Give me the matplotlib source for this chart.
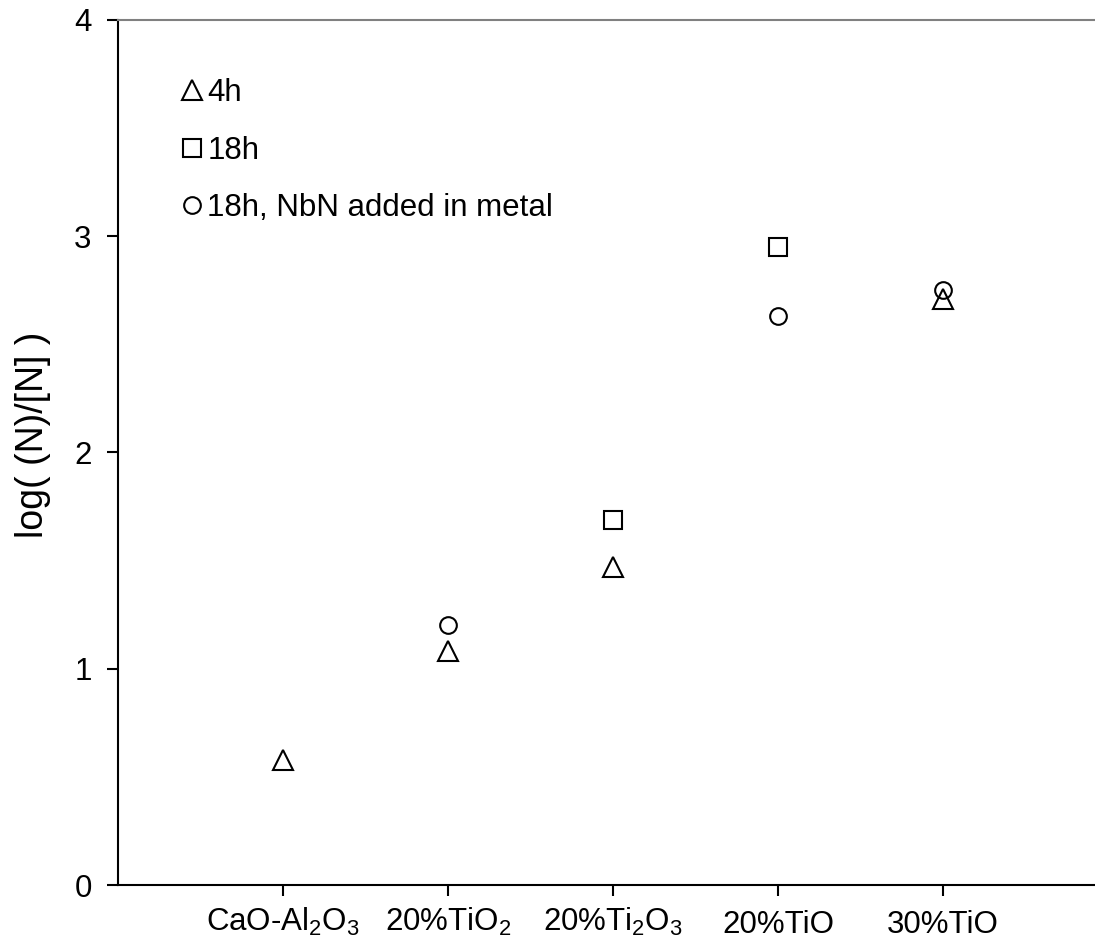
import matplotlib.pyplot as plt

plt.rcParams['font.family'] = ['Liberation Sans', 'DejaVu Sans']
plt.rcParams['mathtext.fontset'] = 'custom'
plt.rcParams['mathtext.rm'] = 'Liberation Sans'
plt.rcParams['mathtext.it'] = 'Liberation Sans'

# slag compositions on the x axis
categories = ['CaO-Al$_2$O$_3$', '20%TiO$_2$', '20%Ti$_2$O$_3$', '20%TiO', '30%TiO']
x_pos = [1, 2, 3, 4, 5]

# log((N)/[N]), None = no point
h4 = [0.58, 1.08, 1.47, None, 2.71]
h18 = [None, None, 1.69, 2.95, None]
h18_nbn = [None, 1.20, None, 2.63, 2.75]


def pts(vals):
    xs = [x for x, v in zip(x_pos, vals) if v is not None]
    ys = [v for v in vals if v is not None]
    return xs, ys


fig = plt.figure(figsize=(10.95, 9.42), dpi=100)
ax = fig.add_axes([0.1078, 0.0605, 0.8922, 0.9183])

style = dict(linestyle='none', markerfacecolor='none', markeredgecolor='black',
             markeredgewidth=1.5)
ax.plot(*pts(h4), marker='^', markersize=15, label='4h', **style)
ax.plot(*pts(h18), marker='s', markersize=12.5, label='18h', **style)
ax.plot(*pts(h18_nbn), marker='o', markersize=12, label='18h, NbN added in metal', **style)

ax.set_xlim(0, 5.92)
ax.set_ylim(0, 4)
ax.set_yticks([0, 1, 2, 3, 4])
ax.set_xticks(x_pos)
ax.set_xticklabels(categories)

for s in ['left', 'bottom']:
    ax.spines[s].set_linewidth(1.5)
ax.spines['right'].set_visible(False)
ax.spines['top'].set_color('#808080')
ax.spines['top'].set_linewidth(1.5)

ax.tick_params(axis='both', direction='out', length=8, width=1.5, labelsize=22.5)
ax.tick_params(axis='y', pad=11)
ax.tick_params(axis='x', pad=7)
# plain labels sit a bit lower in the original
for t in ax.xaxis.get_major_ticks()[3:]:
    t.set_pad(10)

ax.set_ylabel('log( (N)/[N] )', fontsize=27, labelpad=17)
ax.yaxis.label.set_y(0.52)

ax.legend(loc='upper left', bbox_to_anchor=(0.053, 0.947), frameon=False,
          fontsize=22.5, numpoints=1, handlelength=0.6, handletextpad=0.2,
          labelspacing=0.88, borderaxespad=0)

fig.savefig('out.png', dpi=100)
